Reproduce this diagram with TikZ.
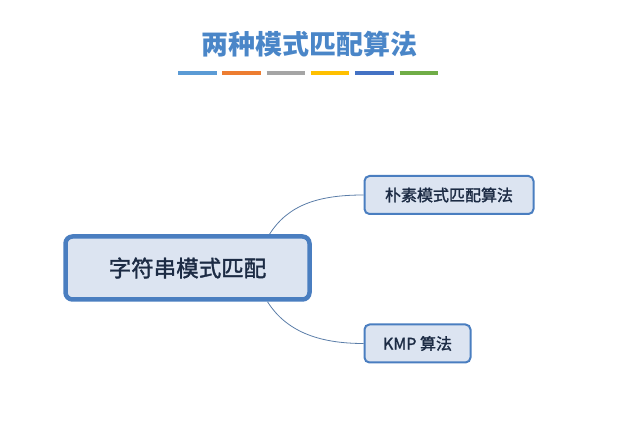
\documentclass[tikz,border=0pt]{standalone}
\usepackage{fontspec}
\setmainfont{Noto Sans CJK SC}
\newfontfamily\medfont{Noto Sans CJK SC}[FakeBold=1.6]
\usepackage{xcolor}
\usetikzlibrary{positioning}

\definecolor{titleblue}{HTML}{4A86C8}
\definecolor{boxline}{HTML}{4A7EC0}
\definecolor{boxfill}{HTML}{DCE4F1}
\definecolor{boxtext}{HTML}{1C2B44}
\definecolor{linkline}{HTML}{5A7DA8}
\definecolor{barblue}{HTML}{5B9BD5}
\definecolor{barorange}{HTML}{ED7D31}
\definecolor{bargray}{HTML}{A5A5A5}
\definecolor{baryellow}{HTML}{FFC000}
\definecolor{bardark}{HTML}{4472C4}
\definecolor{bargreen}{HTML}{70AD47}

\begin{document}
\begin{tikzpicture}[
  x=1pt, y=-1pt,
  rootbox/.style={rectangle, rounded corners=7pt, draw=boxline, line width=4.5pt,
                  fill=boxfill, text=boxtext, minimum width=244pt,
                  minimum height=63pt, font=\medfont\fontsize{22.5pt}{26pt}\selectfont},
  leafbox/.style={rectangle, rounded corners=5pt, draw=boxline, line width=2pt,
                  fill=boxfill, text=boxtext, minimum height=38pt,
                  font=\medfont\fontsize{16pt}{19pt}\selectfont},
  link/.style={draw=linkline, line width=0.8pt},
  bar/.style={line width=4.5pt}
]
\useasboundingbox (0,0) rectangle (622,422);

% title and colour strip
\node[text=titleblue, font=\fontsize{27pt}{31pt}\selectfont\bfseries] (title) at (309,44) {两种模式匹配算法};
\foreach \c [count=\i from 0] in {barblue, barorange, bargray, baryellow, bardark, bargreen}
  \draw[bar, \c] (178+44.3*\i,73) -- (216.5+44.3*\i,73);

% mind map
\node[rootbox] (root) at (187.5,268) {字符串模式匹配};
\node[leafbox, minimum width=169pt] (naive) at (449,195) {朴素模式匹配算法};
\node[leafbox, minimum width=106pt] (kmp) at (417.5,343.5) {KMP 算法};

\draw[link] ([xshift=82pt]root.north) .. controls (288,205) and (318,195) .. (naive.west);
\draw[link] ([xshift=80pt]root.south) .. controls (286,331) and (318,343.5) .. (kmp.west);
\end{tikzpicture}
\end{document}
